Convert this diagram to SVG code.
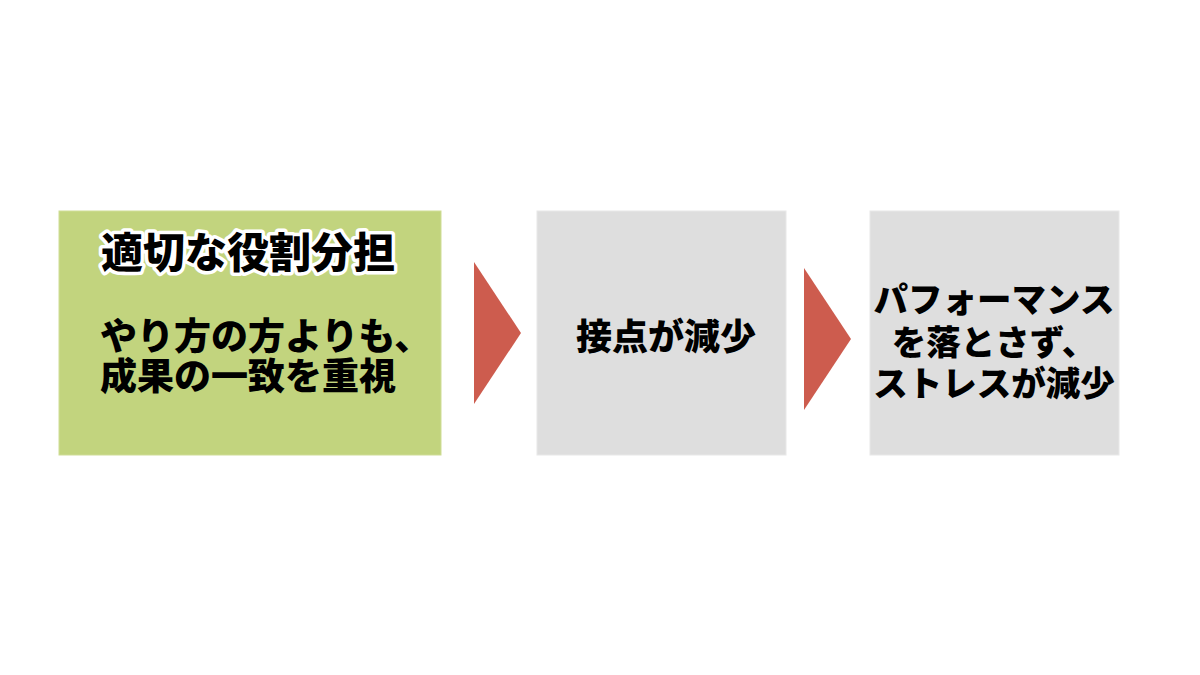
<svg xmlns="http://www.w3.org/2000/svg" width="1200" height="675" viewBox="0 0 1200 675">
<style>
.t{font-family:"Noto Sans CJK JP","Noto Sans CJK SC",sans-serif;font-weight:900;fill:#000}
.title{stroke:#fff;stroke-width:7;stroke-linejoin:round;paint-order:stroke}
.gray{fill:#dedede;stroke:#e8e8e8;stroke-width:1}
.arrow{fill:#cd5c4e}
</style>
<rect width="1200" height="675" fill="#fff"/>
<g id="node1">
<rect x="59" y="211" width="382" height="244" fill="#c2d47e" stroke="#cfdd96" stroke-width="1"/>
<text class="t title" x="248" y="268" font-size="42" text-anchor="middle">適切な役割分担</text>
<text class="t" x="100" y="350" font-size="37">やり方の方よりも、</text>
<text class="t" x="100" y="390" font-size="37">成果の一致を重視</text>
</g>
<g id="node2">
<rect class="gray" x="537" y="211" width="249" height="244"/>
<text class="t" x="666" y="350" font-size="36" text-anchor="middle">接点が減少</text>
</g>
<g id="node3">
<rect class="gray" x="870" y="211" width="249" height="244"/>
<text class="t" x="994" y="312" font-size="34.5" text-anchor="middle">パフォーマンス</text>
<text class="t" x="994" y="355" font-size="34.5" text-anchor="middle">を落とさず、</text>
<text class="t" x="994" y="396" font-size="34.5" text-anchor="middle">ストレスが減少</text>
</g>
<g id="connectors">
<polygon class="arrow" points="474,262 521,333 474,404"/>
<polygon class="arrow" points="804,268 851,339 804,410"/>
</g>
</svg>
